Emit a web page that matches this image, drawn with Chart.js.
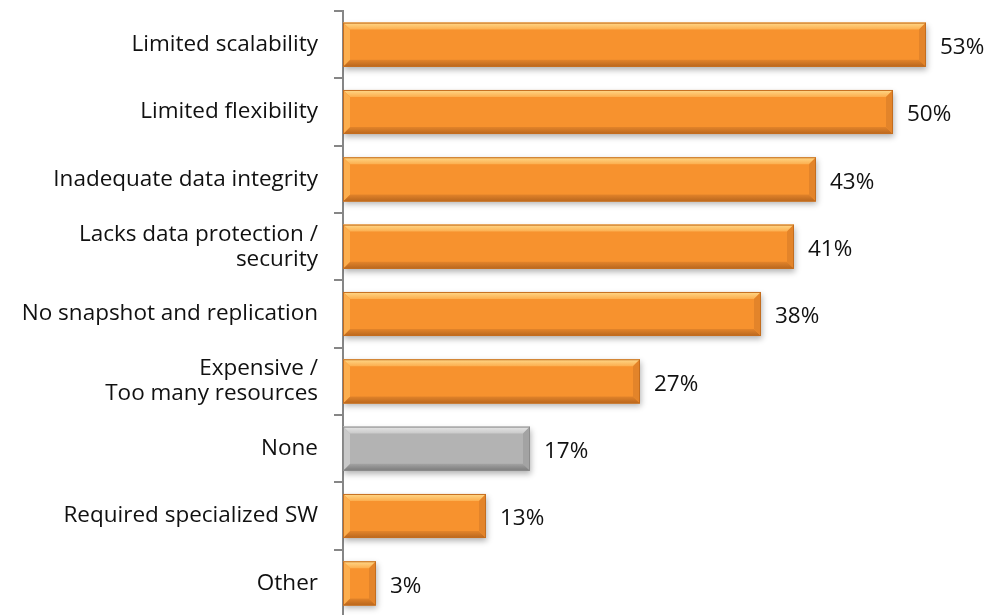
<!DOCTYPE html>
<html><head><meta charset="utf-8">
<script src="https://cdn.jsdelivr.net/npm/chart.js@4"></script>
<style>html,body{margin:0;padding:0;overflow:hidden;background:#fff}#wrap{width:1006px;height:617px}</style>
</head><body><div id="wrap"><canvas id="c" width="1006" height="617"></canvas></div>
<script>
const categories = [
  "Limited scalability",
  "Limited flexibility",
  "Inadequate data integrity",
  ["Lacks data protection /", "security"],
  "No snapshot and replication",
  ["Expensive /", "Too many resources"],
  "None",
  "Required specialized SW",
  "Other"
];
const values = [53, 50, 43, 41, 38, 27, 17, 13, 3];
const highlight = [false, false, false, false, false, false, true, false, false];
const valueAxisMax = 60;

const FONT = "'Open Sans', sans-serif";
const FONT_SIZE = 22.5;

const PAL = {
  orange: { base: '#f7922e', light: '#ffd98a', lightMid: '#fcae4e', dark: '#b8661e', darkMid: '#e3842a', border: '#c46d1e' },
  gray:   { base: '#b3b3b3', light: '#e6e6e6', lightMid: '#c9c9c9', dark: '#7a7a7a', darkMid: '#a3a3a3', border: '#8c8c8c' }
};

function poly(c, pts, fill) {
  c.beginPath();
  c.moveTo(pts[0][0], pts[0][1]);
  for (let k = 1; k < pts.length; k++) c.lineTo(pts[k][0], pts[k][1]);
  c.closePath();
  c.fillStyle = fill;
  c.fill();
}

const bevelPlugin = {
  id: 'bevel',
  beforeDatasetDraw(chart) {
    const c = chart.ctx;
    c.save();
    c.shadowColor = 'rgba(0,0,0,0.30)';
    c.shadowBlur = 6;
    c.shadowOffsetX = 1;
    c.shadowOffsetY = 3;
  },
  afterDatasetDraw(chart) {
    const c = chart.ctx;
    c.restore();
    const meta = chart.getDatasetMeta(0);
    meta.data.forEach((bar, i) => {
      const p = highlight[i] ? PAL.gray : PAL.orange;
      const h = bar.height;
      const x0 = Math.min(bar.base, bar.x), x1 = Math.max(bar.base, bar.x);
      const y0 = bar.y - h / 2, y1 = bar.y + h / 2;
      const b = Math.min(7, (x1 - x0) / 3);
      c.save();
      let g = c.createLinearGradient(0, y0, 0, y0 + b);
      g.addColorStop(0, p.light); g.addColorStop(1, p.lightMid);
      poly(c, [[x0, y0], [x1, y0], [x1 - b, y0 + b], [x0 + b, y0 + b]], g);
      g = c.createLinearGradient(0, y1 - b, 0, y1);
      g.addColorStop(0, p.darkMid); g.addColorStop(1, p.dark);
      poly(c, [[x0, y1], [x1, y1], [x1 - b, y1 - b], [x0 + b, y1 - b]], g);
      poly(c, [[x0, y0], [x0 + b, y0 + b], [x0 + b, y1 - b], [x0, y1]], p.lightMid);
      poly(c, [[x1, y0], [x1 - b, y0 + b], [x1 - b, y1 - b], [x1, y1]], p.darkMid);
      c.strokeStyle = p.border;
      c.lineWidth = 1;
      c.strokeRect(x0 + 0.5, y0 + 0.5, x1 - x0 - 1, h - 1);
      c.restore();
    });
  }
};

const labelPlugin = {
  id: 'valueLabels',
  afterDatasetsDraw(chart) {
    const c = chart.ctx;
    const meta = chart.getDatasetMeta(0);
    c.save();
    c.font = FONT_SIZE + 'px ' + FONT;
    c.fillStyle = '#111';
    c.textAlign = 'left';
    c.textBaseline = 'middle';
    meta.data.forEach((bar, i) => {
      c.fillText(values[i] + '%', bar.x + 14, bar.y + 3);
    });
    c.restore();
  }
};

new Chart(document.getElementById('c'), {
  type: 'bar',
  data: {
    labels: categories,
    datasets: [{
      data: values,
      backgroundColor: values.map((v, i) => highlight[i] ? PAL.gray.base : PAL.orange.base),
      borderWidth: 0,
      categoryPercentage: 1,
      barPercentage: 0.655
    }]
  },
  plugins: [bevelPlugin, labelPlugin],
  options: {
    indexAxis: 'y',
    responsive: false,
    animation: false,
    events: [],
    layout: { padding: { top: 11, right: 3, bottom: 0, left: 0 } },
    plugins: { legend: { display: false }, tooltip: { enabled: false } },
    scales: {
      x: { display: false, min: 0, max: valueAxisMax },
      y: {
        afterFit(scale) { scale.width = 343; scale.paddingTop = 0; scale.paddingBottom = 0; },
        border: { display: true, color: '#868686', width: 2 },
        grid: { display: true, drawOnChartArea: false, drawTicks: true, tickLength: 9, color: '#868686', lineWidth: 2, offset: true },
        ticks: { color: '#111', padding: 16, font: { family: FONT, size: FONT_SIZE, lineHeight: 1.11 } }
      }
    }
  }
});
</script>
</body></html>
